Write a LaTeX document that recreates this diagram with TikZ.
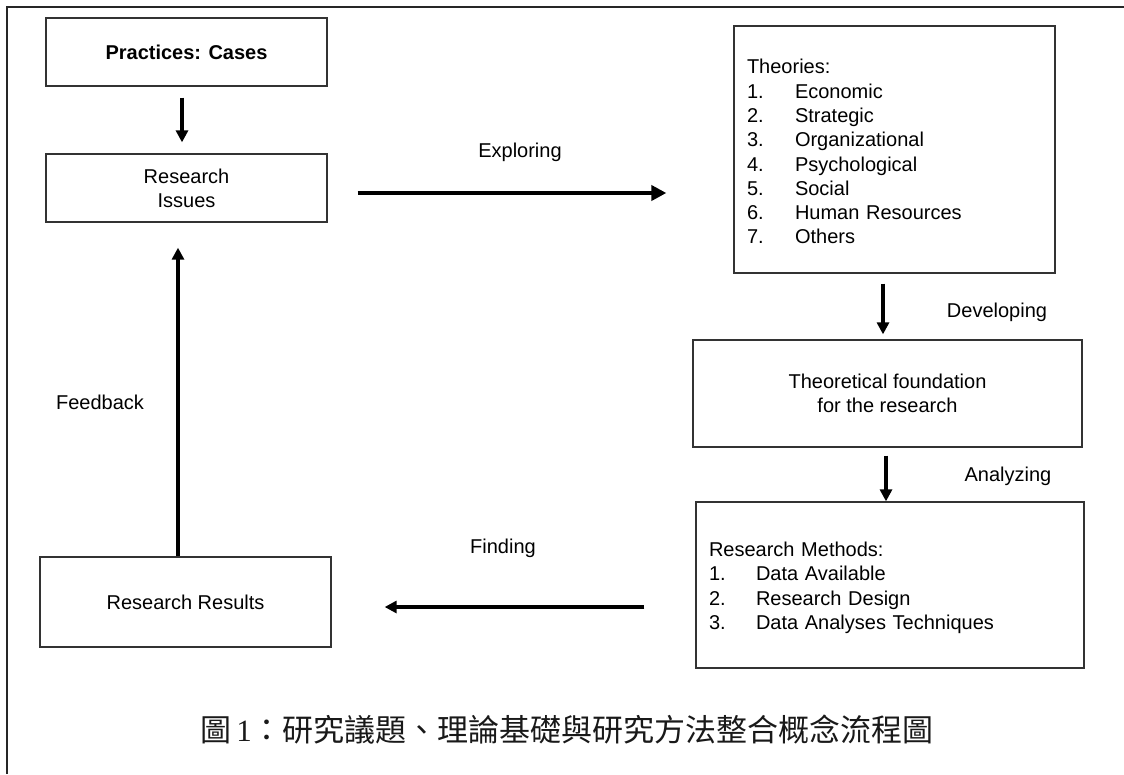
\documentclass[tikz,border=0pt]{standalone}
\usepackage{fontspec}
\setmainfont{Liberation Sans}
\newfontfamily\cjk{Noto Sans CJK TC}
\newfontfamily\numserif{Liberation Serif}
\usetikzlibrary{arrows.meta}

\begin{document}
\begin{tikzpicture}[x=1pt,y=-1pt,
  every node/.style={font=\fontsize{20}{24.3}\selectfont, text=black},
  box/.style={draw=black!80, line width=1.3pt, inner sep=0pt, align=center},
  flow/.style={line width=4.5pt, -{Triangle[length=12pt,width=12pt]}},
  bigflow/.style={line width=4.8pt, -{Triangle[length=15pt,width=15pt]}},
  lbl/.style={inner sep=0pt},
  listbox/.style={box, align=left, inner xsep=13pt}
]
\useasboundingbox (0,0) rectangle (1124,774);

% outer frame (left and top edges)
\draw[line width=2pt, black!85] (7,774) -- (7,7) -- (1124,7);

% boxes
\node[box, minimum width=281pt, minimum height=68pt] (pc) at (186.5,52)
  {\textbf{Practices: Cases}};
\node[box, minimum width=281pt, minimum height=68pt] (ri) at (186.5,188)
  {Research\\Issues};
\node[listbox, minimum width=321pt, minimum height=247pt, text width=295pt] (th) at (894.5,149.5)
  {\begin{tabular}{@{}p{48pt}@{}l@{}}
   \multicolumn{2}{@{}l@{}}{\rule{0pt}{26pt}Theories:}\\
   1. & Economic\\
   2. & Strategic\\
   3. & Organizational\\
   4. & Psychological\\
   5. & Social\\
   6. & Human Resources\\
   7. & Others
   \end{tabular}};
\node[box, minimum width=389pt, minimum height=107pt] (tf) at (887.5,393.5)
  {Theoretical foundation\\for the research};
\node[listbox, minimum width=388pt, minimum height=166pt, text width=362pt] (rm) at (890,585)
  {\begin{tabular}{@{}p{47pt}@{}l@{}}
   \multicolumn{2}{@{}l@{}}{\rule{0pt}{23pt}Research Methods:}\\
   1. & Data Available\\
   2. & Research Design\\
   3. & Data Analyses Techniques
   \end{tabular}};
\node[box, minimum width=291pt, minimum height=90pt] (rr) at (185.5,602)
  {Research Results};

% connectors
\draw[flow, line width=4pt, shorten <=11pt, shorten >=11pt]
  ([xshift=-4.5pt]pc.south) -- ([xshift=-4.5pt]ri.north);
\draw[bigflow, shorten <=30pt, shorten >=67pt]
  ([yshift=-5pt]ri.east) -- ([yshift=-5pt]ri.east -| th.west);
\draw[flow, line width=4pt, shorten <=10pt, shorten >=5pt]
  ([xshift=-11.5pt]th.south) -- ([xshift=-11.5pt]th.south |- tf.north);
\draw[flow, line width=4pt, shorten <=8pt]
  ([xshift=-4pt]rm.north |- tf.south) -- ([xshift=-4pt]rm.north);
\draw[flow, shorten <=51pt, shorten >=53pt]
  ([yshift=-5pt]rr.east -| rm.west) -- ([yshift=-5pt]rr.east);
\draw[flow, shorten >=25pt]
  ([xshift=-7.5pt]rr.north) -- ([xshift=-7.5pt]rr.north |- ri.south);

% connector labels
\node[lbl] (lexp) at (520,152) {Exploring};
\node[lbl] (ldev) at (997,312) {Developing};
\node[lbl] (lana) at (1008,476) {Analyzing};
\node[lbl] (lfin) at (503,548) {Finding};
\node[lbl] (lfb)  at (100,402) {Feedback};

% figure caption
\node[lbl, font=\fontsize{31}{36}\selectfont, text=black!90] (cap) at (567,730)
  {{\cjk 圖}\hspace{5pt}{\numserif 1}{\cjk ：研究議題、理論基礎與研究方法整合概念流程圖}};
\end{tikzpicture}
\end{document}
